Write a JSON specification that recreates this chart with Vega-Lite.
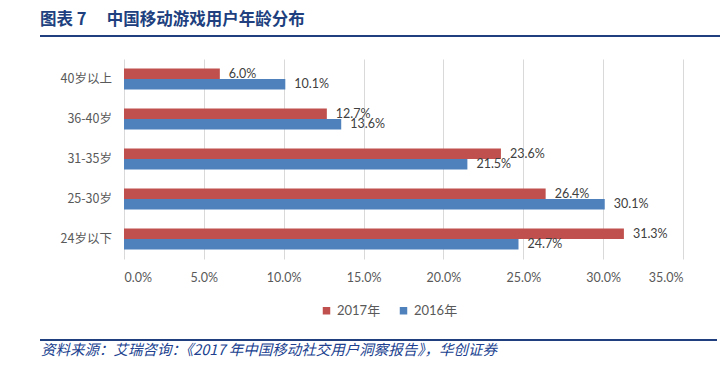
{
  "$schema": "https://vega.github.io/schema/vega-lite/v6.json",
  "background": "white",
  "padding": {"left": 40, "top": 11, "right": 4, "bottom": 0},
  "title": {"text": "图表 7　  中国移动游戏用户年龄分布", "anchor": "start", "frame": "bounds", "font": "Noto Sans CJK SC", "fontSize": 16.5, "fontWeight": "bold", "color": "#203f7e", "offset": 7},
  "datasets": {
    "ages": [
      {"age": "40岁以上", "year": "2017年", "share": 0.060},
      {"age": "40岁以上", "year": "2016年", "share": 0.101},
      {"age": "36-40岁", "year": "2017年", "share": 0.127},
      {"age": "36-40岁", "year": "2016年", "share": 0.136},
      {"age": "31-35岁", "year": "2017年", "share": 0.236},
      {"age": "31-35岁", "year": "2016年", "share": 0.215},
      {"age": "25-30岁", "year": "2017年", "share": 0.264},
      {"age": "25-30岁", "year": "2016年", "share": 0.301},
      {"age": "24岁以下", "year": "2017年", "share": 0.313},
      {"age": "24岁以下", "year": "2016年", "share": 0.247}
    ]
  },
  "spacing": 21,
  "vconcat": [
    {
      "data": {"values": []},
      "mark": {"type": "rule"},
      "encoding": {},
      "width": 678,
      "height": 0.01,
      "view": {"stroke": "#203f7e", "strokeWidth": 2}
    },
    {
      "spacing": 12,
      "resolve": {"legend": {"color": "independent"}},
      "hconcat": [
        {
          "data": {"name": "ages"},
          "transform": [{"aggregate": [], "groupby": ["age"]}],
          "width": 71,
          "height": 200,
          "mark": {"type": "text", "align": "right", "baseline": "middle", "font": "Noto Sans CJK SC", "fontSize": 12.5, "color": "#595959"},
          "encoding": {
            "y": {
              "field": "age", "type": "nominal",
              "sort": ["40岁以上", "36-40岁", "31-35岁", "25-30岁", "24岁以下"],
              "scale": {"paddingInner": 0.475, "paddingOuter": 0.2375},
              "axis": null
            },
            "x": {"datum": 1, "type": "quantitative", "scale": {"domain": [0, 1]}, "axis": null},
            "text": {"field": "age", "type": "nominal"}
          }
        },
        {
          "data": {"name": "ages"},
          "width": 559,
          "height": 200,
          "encoding": {
            "y": {
              "field": "age", "type": "nominal",
              "sort": ["40岁以上", "36-40岁", "31-35岁", "25-30岁", "24岁以下"],
              "scale": {"paddingInner": 0.475, "paddingOuter": 0.2375},
              "axis": null
            },
            "yOffset": {"field": "year", "type": "nominal", "sort": ["2017年", "2016年"]},
            "x": {
              "field": "share", "type": "quantitative",
              "scale": {"domain": [0, 0.35]},
              "axis": {"title": null, "format": ".1%", "values": [0, 0.05, 0.1, 0.15, 0.2, 0.25, 0.3, 0.35], "domain": false, "ticks": false, "gridColor": "#d9d9d9", "labelColor": "#595959", "labelFontSize": 12.5, "labelFont": "Lato, Noto Sans CJK SC", "labelPadding": 12}
            }
          },
          "layer": [
            {
              "mark": {"type": "bar"},
              "encoding": {
                "color": {
                  "field": "year", "type": "nominal", "sort": ["2017年", "2016年"],
                  "scale": {"domain": ["2017年", "2016年"], "range": ["#c0504d", "#4f81bd"]},
                  "legend": {"orient": "none", "legendX": 196, "legendY": 245, "direction": "horizontal", "title": null, "symbolType": "square", "symbolSize": 56, "symbolStrokeWidth": 0, "labelFontSize": 13, "labelColor": "#595959", "labelFont": "Lato, Noto Sans CJK SC", "columnPadding": 16}
                }
              }
            },
            {
              "mark": {"type": "text", "align": "left", "dx": 9, "fontSize": 12.5, "font": "Lato, Noto Sans CJK SC", "color": "#404040"},
              "encoding": {"text": {"field": "share", "type": "quantitative", "format": ".1%"}}
            }
          ]
        }
      ]
    },
    {
      "data": {"values": []},
      "mark": {"type": "rule"},
      "encoding": {},
      "width": 675,
      "height": 0.01,
      "view": {"stroke": "#203f7e", "strokeWidth": 2},
      "title": {"text": "资料来源：艾瑞咨询：《2017 年中国移动社交用户洞察报告》，华创证券", "orient": "bottom", "anchor": "start", "frame": "bounds", "font": "Noto Sans CJK SC", "fontSize": 14.5, "fontStyle": "italic", "fontWeight": "normal", "color": "#203f8f", "offset": 4}
    }
  ],
  "config": {"view": {"stroke": null}}
}
